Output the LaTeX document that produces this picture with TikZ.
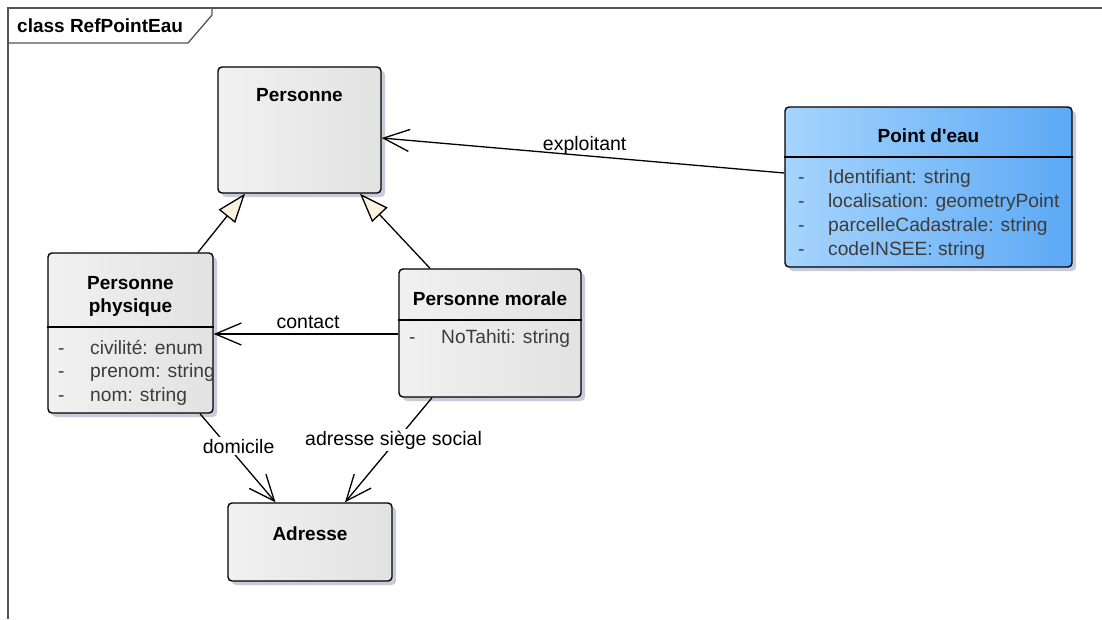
\documentclass[tikz,border=0pt]{standalone}
\usepackage{fontspec}
\setmainfont{Liberation Sans}
\newfontfamily\plainquotes{Liberation Sans}[Ligatures=TeXOff]
\usetikzlibrary{arrows.meta,shadows}
\definecolor{shadowc}{HTML}{C8CBDA}
\definecolor{framec}{HTML}{555555}
\definecolor{attrc}{HTML}{3C3C3C}
\definecolor{genfill}{HTML}{FDF2DF}
\definecolor{grayL}{HTML}{F1F1F1}
\definecolor{grayR}{HTML}{E2E2E2}
\definecolor{blueL}{HTML}{A6D4FD}
\definecolor{blueM}{HTML}{8DC6FB}
\definecolor{blueR}{HTML}{5CA9F5}
\tikzset{
  classbox/.style={draw=black, line width=1.4pt, rounded corners=4pt,
    left color=grayL, middle color=white, right color=grayR,
    drop shadow={shadow xshift=4pt, shadow yshift=-4pt, fill=shadowc, opacity=1}},
  bluebox/.style={classbox, left color=blueL, middle color=blueM, right color=blueR},
  ttl/.style={inner sep=0pt, font=\fontsize{19}{22}\selectfont\bfseries},
  attr/.style={inner sep=0pt, text=attrc, font=\fontsize{19.2}{22}\selectfont, anchor=base west},
  lbl/.style={inner sep=0pt, font=\fontsize{19.5}{22}\selectfont, anchor=base west},
  sep/.style={line width=1.2pt, black},
  assoc/.style={line width=1.3pt, -{Straight Barb[length=26pt, width=22pt, line width=1.3pt]}},
  gen/.style={line width=1.3pt, -{Triangle[length=29pt, width=21pt, fill=genfill, line width=1.3pt]}}
}
\begin{document}
\begin{tikzpicture}[x=1pt, y=-1pt]
\useasboundingbox (0,0) rectangle (1102,619);

% diagram frame and name tab
\draw[framec, line width=1.5pt] (8,619) -- (8,8) -- (1102,8);
\draw[framec, line width=1.3pt] (8,43) -- (188,43) -- (212,15) -- (212,8);
\node[ttl, anchor=base west] (frameT) at (17,32) {class RefPointEau};

% classes
\node[classbox, minimum width=163pt, minimum height=126pt] (per) at (299.5,130) {};
\node[ttl, anchor=base] (perT) at (299.5,101.7) {Personne};

\node[bluebox, minimum width=287pt, minimum height=160pt] (pe) at (928.5,187) {};
\draw[sep] (pe.west |- 0,157) -- (pe.east |- 0,157);
\node[ttl, anchor=base] (peT) at (928.5,142.7) {\plainquotes\bfseries Point d'eau};
\node[attr] (peD1) at (798,183.3) {-};
\node[attr] (peA1) at (828,183.3) {Identifiant: string};
\node[attr] (peD2) at (798,207.3) {-};
\node[attr] (peA2) at (828,207.3) {localisation: geometryPoint};
\node[attr] (peD3) at (798,231.3) {-};
\node[attr] (peA3) at (828,231.3) {parcelleCadastrale: string};
\node[attr] (peD4) at (798,255.3) {-};
\node[attr] (peA4) at (828,255.3) {codeINSEE: string};

\node[classbox, minimum width=165pt, minimum height=160pt] (phys) at (130.5,333) {};
\draw[sep] (phys.west |- 0,327) -- (phys.east |- 0,327);
\node[ttl, anchor=base] (physT1) at (130.5,289) {Personne};
\node[ttl, anchor=base] (physT2) at (130.5,312) {physique};
\node[attr] (physD1) at (58,354) {-};
\node[attr] (physA1) at (90,354) {civilité: enum};
\node[attr] (physD2) at (58,377.5) {-};
\node[attr] (physA2) at (90,377.5) {prenom: string};
\node[attr] (physD3) at (58,401) {-};
\node[attr] (physA3) at (90,401) {nom: string};

\node[classbox, minimum width=182pt, minimum height=128pt] (mor) at (490,333) {};
\draw[sep] (mor.west |- 0,320) -- (mor.east |- 0,320);
\node[ttl, anchor=base] (morT) at (490,305.7) {Personne morale};
\node[attr] (morD1) at (409,343) {-};
\node[attr] (morA1) at (441,343) {NoTahiti: string};

\node[classbox, minimum width=164pt, minimum height=78pt] (adr) at (310,542) {};
\node[ttl, anchor=base] (adrT) at (310,540) {Adresse};

% generalizations
\draw[gen] ([xshift=67.5pt]phys.north) -- ([xshift=-54.5pt]per.south);
\draw[gen] ([xshift=-60pt]mor.north) -- ([xshift=60.5pt]per.south);

% associations
\draw[assoc] ([yshift=14pt]pe.west) -- ([yshift=-8pt]per.east);
\draw[assoc] ([yshift=-1pt]mor.west) -- ([yshift=-1pt]phys.east);
\draw[assoc] ([xshift=69.5pt]phys.south) -- ([xshift=-34.5pt]adr.north);
\draw[assoc] ([xshift=-58pt]mor.south) -- ([xshift=35pt]adr.north);

% association labels
\node[lbl] (lExp) at (542.7,150) {exploitant};
\node[lbl, anchor=base] (lCon) at (308,328) {contact};
\node[lbl, fill=white, inner sep=1.5pt] (lDom) at (201.2,453) {domicile};
\node[lbl, fill=white, inner sep=1.5pt] (lSiege) at (303.5,445) {adresse siège social};
\end{tikzpicture}
\end{document}
